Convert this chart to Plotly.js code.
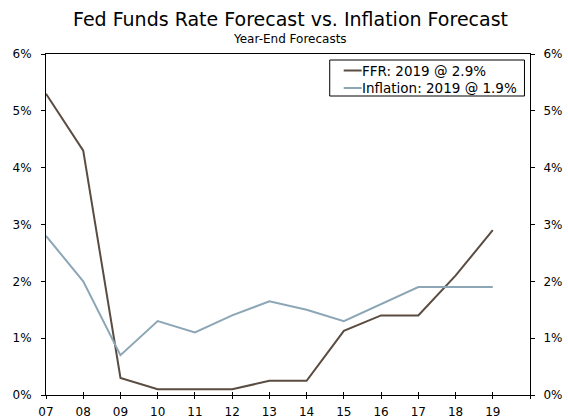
<!DOCTYPE html>
<html>
<head>
<meta charset="utf-8">
<script src="https://cdn.plot.ly/plotly-3.0.1.min.js"></script>
<style>html,body{margin:0;padding:0;background:#fff;}#chart{width:568px;height:420px;}</style>
</head>
<body>
<div id="chart"></div>
<script>
var years = [7, 8, 9, 10, 11, 12, 13, 14, 15, 16, 17, 18, 19];
var ffr = [5.3, 4.3, 0.3, 0.1, 0.1, 0.1, 0.25, 0.25, 1.13, 1.4, 1.4, 2.1, 2.9];
var inflation = [2.8, 2.0, 0.7, 1.3, 1.1, 1.4, 1.65, 1.5, 1.3, 1.6, 1.9, 1.9, 1.9];
var xTickVals = [7, 8, 9, 10, 11, 12, 13, 14, 15, 16, 17, 18, 19, 20];
var xTickText = ["07", "08", "09", "10", "11", "12", "13", "14", "15", "16", "17", "18", "19", ""];
var yTickVals = [0, 1, 2, 3, 4, 5, 6];
var yTickText = ["0%", "1%", "2%", "3%", "4%", "5%", "6%"];
var seriesNames = ["FFR: 2019 @ 2.9%", "Inflation: 2019 @ 1.9%"];
var seriesColors = ["#5a4c41", "#8ca6b6"];
var titleText = "Fed Funds Rate Forecast vs. Inflation Forecast";
var subtitleText = "Year-End Forecasts";

var FONT = "DejaVu Sans, Verdana, sans-serif";
var traces = [
  {x: years, y: ffr, type: "scatter", mode: "lines", name: seriesNames[0],
   line: {color: seriesColors[0], width: 2}, xaxis: "x", yaxis: "y"},
  {x: years, y: inflation, type: "scatter", mode: "lines", name: seriesNames[1],
   line: {color: seriesColors[1], width: 2}, xaxis: "x", yaxis: "y"},
  {x: years, y: ffr, type: "scatter", mode: "lines", showlegend: false, hoverinfo: "skip",
   line: {color: "rgba(0,0,0,0)", width: 0}, xaxis: "x2", yaxis: "y2"}
];

// custom legend (box, sample lines, labels) in paper coordinates
var legBox = {x0: 0.5862, x1: 0.9886, y0: 0.8768, y1: 0.9824};
var legRows = [0.9516, 0.9003];
var legLine = [0.6151, 0.6522];
var shapes = [
  {type: "rect", xref: "paper", yref: "paper", x0: legBox.x0, x1: legBox.x1, y0: legBox.y0, y1: legBox.y1,
   line: {color: "#000", width: 1}, fillcolor: "#fff", layer: "above"}
];
var annotations = [
  {text: titleText, xref: "paper", yref: "paper", x: 0.505, y: 1.103, xanchor: "center", yanchor: "middle",
   showarrow: false, font: {family: FONT, size: 19, color: "#000"}},
  {text: subtitleText, xref: "paper", yref: "paper", x: 0.505, y: 1.044, xanchor: "center", yanchor: "middle",
   showarrow: false, font: {family: FONT, size: 12, color: "#000"}}
];
for (var i = 0; i < seriesNames.length; i++) {
  shapes.push({type: "line", xref: "paper", yref: "paper", x0: legLine[0], x1: legLine[1],
    y0: legRows[i], y1: legRows[i], line: {color: seriesColors[i], width: 2}, layer: "above"});
  annotations.push({text: seriesNames[i], xref: "paper", yref: "paper", x: legLine[1], y: legRows[i],
    xanchor: "left", yanchor: "middle", showarrow: false, xshift: -2,
    font: {family: FONT, size: 13.5, color: "#000"}});
}

var layout = {
  width: 568, height: 420,
  margin: {l: 46, r: 37.5, t: 54, b: 25, pad: 0},
  paper_bgcolor: "#fff", plot_bgcolor: "#fff",
  font: {family: FONT, size: 12, color: "#000"},
  showlegend: false,
  xaxis: {range: [7, 20], tickvals: xTickVals, ticktext: xTickText,
    ticks: "outside", ticklen: 3, tickwidth: 1, tickcolor: "#000", ticklabelstandoff: 3,
    showline: true, linecolor: "#000", linewidth: 1, mirror: true,
    showgrid: false, zeroline: false, fixedrange: true,
    tickfont: {family: FONT, size: 12, color: "#000"}},
  xaxis2: {range: [7, 20], tickvals: xTickVals, overlaying: "x",
    ticks: "inside", ticklen: 3, tickwidth: 1, tickcolor: "#000",
    showticklabels: false, showline: false, showgrid: false, zeroline: false},
  yaxis: {range: [0, 6], tickvals: yTickVals, ticktext: yTickText,
    ticks: "outside", ticklen: 4, tickwidth: 1, tickcolor: "#000", ticklabelstandoff: 7,
    showline: true, linecolor: "#000", linewidth: 1,
    showgrid: false, zeroline: false, fixedrange: true,
    tickfont: {family: FONT, size: 12, color: "#000"}},
  yaxis2: {range: [0, 6], tickvals: yTickVals, ticktext: yTickText, overlaying: "y", side: "right",
    ticks: "outside", ticklen: 4, tickwidth: 1, tickcolor: "#000", ticklabelstandoff: 6,
    showline: true, linecolor: "#000", linewidth: 1,
    showgrid: false, zeroline: false,
    tickfont: {family: FONT, size: 12, color: "#000"}},
  shapes: shapes,
  annotations: annotations
};

Plotly.newPlot("chart", traces, layout, {staticPlot: true, displayModeBar: false});
</script>
</body>
</html>
